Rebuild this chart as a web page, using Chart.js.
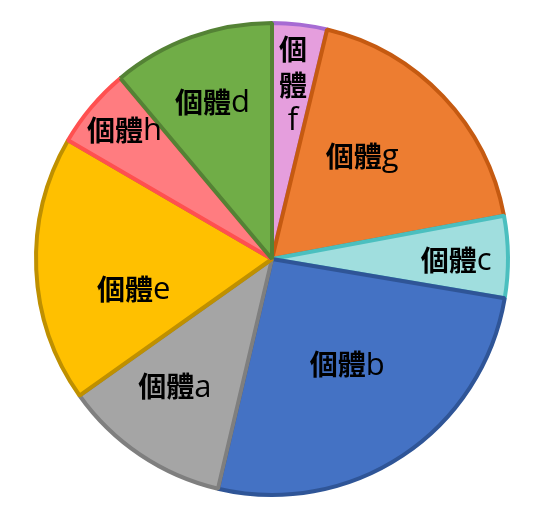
<!DOCTYPE html>
<html>
<head>
<meta charset="utf-8">
<script src="https://cdn.jsdelivr.net/npm/chart.js@4"></script>
<style>
  html, body { margin: 0; padding: 0; background: #fff; }
  #wrap { width: 542px; height: 517px; }
</style>
</head>
<body>
<div id="wrap"><canvas id="myChart"></canvas></div>
<script>
// slices clockwise from 12 o'clock
const labels = ['個體f', '個體g', '個體c', '個體b', '個體a', '個體e', '個體h', '個體d']
const values = [3.75, 18.3, 5.6, 26.0, 11.5, 18.2, 5.5, 11.1]

const fillColors = ['#E59EDD', '#ED7D31', '#A0DEDE', '#4472C4', '#A5A5A5', '#FFC000', '#FF7C80', '#70AD47']
const edgeColors = ['#A66BD3', '#C55A11', '#4BBFBF', '#2F5597', '#7F7F7F', '#BF9000', '#FF5050', '#548235']

// where each label sits: fraction of radius, and fraction through the slice
const labelRadius = [0.74, 0.58, 0.78, 0.55, 0.68, 0.60, 0.83, 0.71]
const labelSweep = [0.51, 0.42, 0.54, 0.48, 0.58, 0.35, 0.55, 0.48]

const cjkFont = 'bold 28px "Noto Sans CJK TC"'
const latinFont = '31px "Open Sans"'

// draws the two CJK chars bold and the trailing letter regular, centred on x
function drawLabel(ctx, text, x, y) {
  const head = text.slice(0, -1)
  const tail = text.slice(-1)
  ctx.font = cjkFont
  const w1 = ctx.measureText(head).width
  ctx.font = latinFont
  const w2 = ctx.measureText(tail).width
  let left = x - (w1 + w2) / 2
  ctx.textAlign = 'left'
  ctx.font = cjkFont
  ctx.fillText(head, left, y)
  ctx.font = latinFont
  ctx.fillText(tail, left + w1, y + 1)
}

const sliceLabels = {
  id: 'sliceLabels',
  afterDatasetsDraw(chart) {
    const ctx = chart.ctx
    const meta = chart.getDatasetMeta(0)
    ctx.save()
    ctx.fillStyle = '#000'
    ctx.textBaseline = 'middle'
    meta.data.forEach((arc, i) => {
      const p = arc.getProps(['x', 'y', 'startAngle', 'endAngle', 'outerRadius'], true)
      const a = p.startAngle + (p.endAngle - p.startAngle) * labelSweep[i]
      const r = p.outerRadius * labelRadius[i]
      const x = p.x + Math.cos(a) * r
      const y = p.y + Math.sin(a) * r
      let text = labels[i]
      if (i == 0) {
        // narrow slice, one character per line
        const lines = Array.from(text)
        const lh = 36
        ctx.textAlign = 'center'
        lines.forEach((t, k) => {
          ctx.font = k < 2 ? cjkFont : latinFont
          ctx.fillText(t, x, y + (k - (lines.length - 1) / 2) * lh)
        })
      } else {
        drawLabel(ctx, text, x, y)
      }
    })
    ctx.restore()
  }
}

const config = {
  type: 'pie',
  data: {
    labels: labels,
    datasets: [{
      data: values,
      backgroundColor: fillColors,
      borderColor: edgeColors,
      borderWidth: 4
    }]
  },
  options: {
    responsive: true,
    maintainAspectRatio: false,
    animation: false,
    layout: {
      padding: { top: 21, bottom: 20, left: 34, right: 32 }
    },
    plugins: {
      legend: { display: false },
      tooltip: { enabled: false }
    }
  },
  plugins: [sliceLabels]
}

const myChart = new Chart(document.getElementById('myChart'), config)
</script>
</body>
</html>
